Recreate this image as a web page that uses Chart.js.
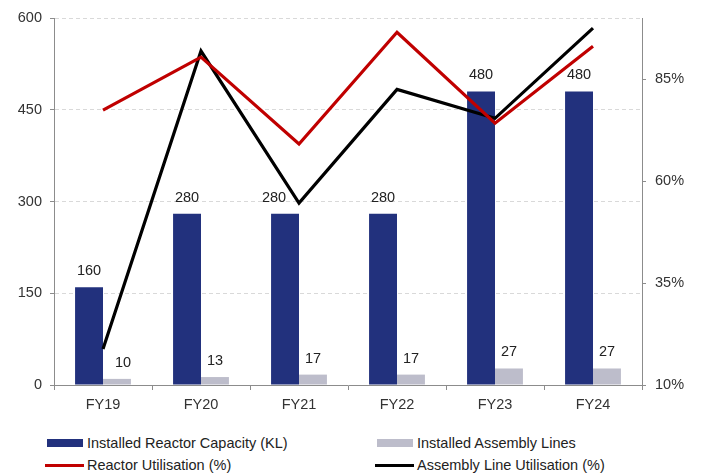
<!DOCTYPE html>
<html>
<head>
<meta charset="utf-8">
<script src="https://cdn.jsdelivr.net/npm/chart.js@4/dist/chart.umd.min.js"></script>
<style>
  body { margin: 0; background: #fff; font-family: "Liberation Sans", Arial, sans-serif; }
  #wrap { position: relative; width: 702px; height: 475px; }
  #chart { position: absolute; left: 0; top: 0; }
  .leg { position: absolute; font-size: 14.5px; color: #222; line-height: 16px; white-space: nowrap; }
  .leg span.sw { position: absolute; left: 0; }
  .leg span.txt { position: absolute; left: 42px; top: 0; }
</style>
</head>
<body>
<div id="wrap">
  <canvas id="chart" width="702" height="420"></canvas>
  <div id="legend"></div>
</div>
<script>
// --- donnees ---
const years = ['FY19', 'FY20', 'FY21', 'FY22', 'FY23', 'FY24'];
const reactorCapacity = [160, 280, 280, 280, 480, 480];
const assemblyLines = [10, 13, 17, 17, 27, 27];
const reactorUtil = [77.4, 90.4, 69.1, 96.5, 74.2, 93.1];
const assemblyUtil = [18.8, 91.9, 54.6, 82.5, 75.4, 97.5];
const leftTicks = [0, 150, 300, 450, 600];
const pctTicks = [10, 35, 60, 85];

const AXIS = '#8c8c8c';
const FONT = { family: '"Liberation Sans", Arial, sans-serif', size: 14.5 };

// petits decalages des etiquettes qui touchent les lignes (dataset-index)
const labelNudge = { '0-2': -11, '1-0': 6 };

// etiquettes au-dessus des barres
const barLabels = {
  id: 'barLabels',
  afterDatasetsDraw(chart) {
    const ctx = chart.ctx;
    ctx.save();
    ctx.font = '14.5px "Liberation Sans", Arial, sans-serif';
    ctx.fillStyle = '#222';
    ctx.textAlign = 'center';
    ctx.textBaseline = 'middle';
    chart.data.datasets.forEach((ds, i) => {
      if (ds.type !== 'bar') return;
      chart.getDatasetMeta(i).data.forEach((el, j) => {
        const dx = labelNudge[i + '-' + j] || 0;
        ctx.fillText(ds.data[j], el.x + dx, el.y - 16);
      });
    });
    ctx.restore();
  }
};

const chart = new Chart(document.getElementById('chart'), {
  data: {
    labels: years,
    datasets: [
      { type: 'bar', label: 'Installed Reactor Capacity (KL)', data: reactorCapacity, backgroundColor: '#22317d', yAxisID: 'y', order: 2, categoryPercentage: 0.57, barPercentage: 1 },
      { type: 'bar', label: 'Installed Assembly Lines', data: assemblyLines, backgroundColor: '#bdbdcb', yAxisID: 'y', order: 2, categoryPercentage: 0.57, barPercentage: 1 },
      { type: 'line', label: 'Reactor Utilisation (%)', data: reactorUtil, borderColor: '#c00000', backgroundColor: '#c00000', borderWidth: 3.2, pointRadius: 0, yAxisID: 'y1', order: 1 },
      { type: 'line', label: 'Assembly Line Utilisation (%)', data: assemblyUtil, borderColor: '#000', backgroundColor: '#000', borderWidth: 3.2, pointRadius: 0, yAxisID: 'y1', order: 1 }
    ]
  },
  options: {
    responsive: false,
    animation: false,
    layout: { padding: { top: 18, left: 0, right: 0, bottom: 0 } },
    plugins: { legend: { display: false }, tooltip: { enabled: false } },
    scales: {
      x: {
        offset: true,
        grid: { offset: true, drawOnChartArea: false, tickLength: 5, color: AXIS },
        border: { color: AXIS },
        ticks: { color: '#333', font: FONT, padding: 6 },
        afterFit(s) { s.height = 35; }
      },
      y: {
        position: 'left',
        min: 0, max: 600,
        afterBuildTicks(s) { s.ticks = leftTicks.map(v => ({ value: v })); },
        grid: { color: '#d9d9d9', tickColor: AXIS, tickLength: 4 },
        border: { color: AXIS, dash: [4, 3] },
        ticks: { color: '#333', font: FONT, padding: 8 },
        afterFit(s) { s.width = 54; }
      },
      y1: {
        position: 'right',
        min: 10, max: 100,
        afterBuildTicks(s) { s.ticks = pctTicks.map(v => ({ value: v })); },
        grid: { drawOnChartArea: false, tickColor: AXIS, tickLength: 4 },
        border: { color: AXIS },
        ticks: { color: '#333', font: FONT, padding: 9, callback: v => v + '%' },
        afterFit(s) { s.width = 60; }
      }
    }
  },
  plugins: [barLabels]
});

// --- legende en deux colonnes ---
const legendPos = [
  { left: 45, top: 435 },
  { left: 375, top: 435 },
  { left: 45, top: 457 },
  { left: 375, top: 457 }
];
const legend = document.getElementById('legend');
chart.data.datasets.forEach((ds, i) => {
  const item = document.createElement('div');
  item.className = 'leg';
  item.style.left = legendPos[i].left + 'px';
  item.style.top = legendPos[i].top + 'px';
  const sw = document.createElement('span');
  sw.className = 'sw';
  if (ds.type === 'bar') {
    sw.style.cssText = 'left:2px;top:4px;width:36px;height:8px;background:' + ds.backgroundColor;
  } else {
    sw.style.cssText = 'left:0;top:7px;width:39px;height:3px;background:' + ds.borderColor;
  }
  const txt = document.createElement('span');
  txt.className = 'txt';
  txt.textContent = ds.label;
  item.appendChild(sw);
  item.appendChild(txt);
  legend.appendChild(item);
});
</script>
</body>
</html>
